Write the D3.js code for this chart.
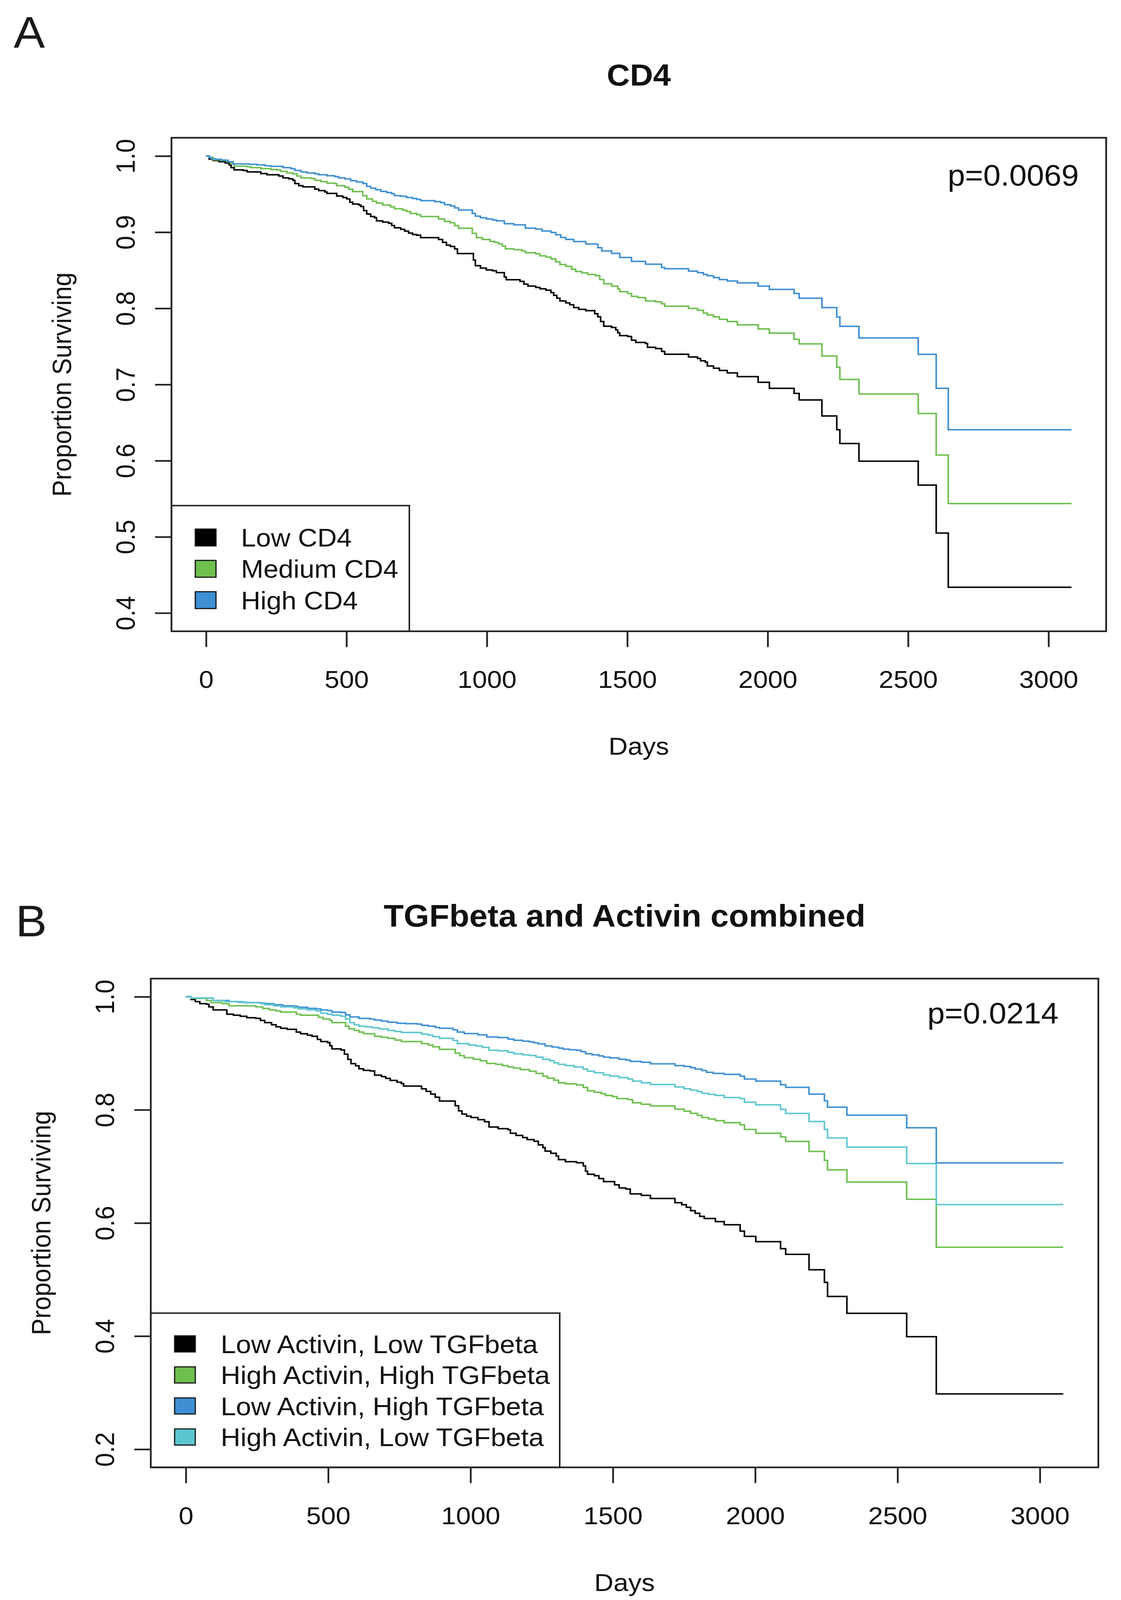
<!DOCTYPE html>
<html>
<head>
<meta charset="utf-8">
<script src="https://cdnjs.cloudflare.com/ajax/libs/d3/7.8.5/d3.min.js"></script>
<style>
  html, body { margin: 0; padding: 0; height: 100%; overflow: hidden; background: #fff; }
  svg { display: block; }
  text { font-family: "Liberation Sans", Arial, sans-serif; fill: #111; }
</style>
</head>
<body>
<script>
/******************************************************************************/
/* DATA                                                                       */
/******************************************************************************/
// follow-up ends here for every curve (days)
var lastDay = 3082;
var dayTicks = [0, 500, 1000, 1500, 2000, 2500, 3000];

// panel A : [day, proportion surviving] at each step
var cd4Low = [[0,1],[11,0.9958],[25,0.9941],[46,0.9926],[68,0.9909],[82,0.9884],[89,0.9848],[100,0.9818],[132,0.9811],[146,0.9791],[195,0.9769],[217,0.9754],[259,0.9737],[274,0.9713],[295,0.9700],[309,0.9681],[316,0.9639],[330,0.9610],[345,0.9595],[387,0.9566],[401,0.9546],[423,0.9529],[430,0.9509],[465,0.9475],[487,0.9455],[501,0.9436],[512,0.9394],[522,0.9369],[544,0.9357],[551,0.9338],[561,0.9284],[572,0.9239],[586,0.9205],[600,0.9190],[607,0.9149],[629,0.9132],[650,0.9117],[661,0.9088],[671,0.9058],[693,0.9038],[707,0.9014],[721,0.8989],[735,0.8970],[750,0.8960],[764,0.8928],[828,0.8904],[842,0.8867],[856,0.8830],[870,0.8813],[885,0.8781],[895,0.8720],[952,0.8634],[959,0.8560],[977,0.8528],[998,0.8504],[1020,0.8494],[1034,0.8470],[1062,0.8413],[1069,0.8376],[1118,0.8354],[1132,0.8318],[1146,0.8293],[1174,0.8274],[1189,0.8256],[1210,0.8239],[1228,0.8207],[1238,0.8171],[1249,0.8134],[1260,0.8097],[1281,0.8072],[1295,0.8048],[1309,0.8011],[1327,0.7987],[1352,0.7970],[1384,0.7930],[1395,0.7889],[1405,0.7827],[1416,0.7766],[1444,0.7749],[1459,0.7717],[1466,0.7680],[1473,0.7643],[1501,0.7631],[1515,0.7582],[1530,0.7553],[1565,0.7538],[1572,0.7489],[1601,0.7472],[1622,0.7435],[1633,0.7398],[1718,0.7361],[1750,0.7342],[1761,0.7312],[1778,0.7293],[1785,0.7244],[1807,0.7214],[1828,0.7185],[1856,0.7153],[1892,0.7104],[1966,0.7030],[2006,0.6950],[2094,0.6883],[2112,0.6797],[2193,0.6587],[2246,0.6406],[2257,0.6226],[2325,0.5993],[2536,0.5679],[2600,0.5050],[2643,0.4338]];
var cd4Medium = [[0,1],[11,0.9982],[25,0.9951],[53,0.9941],[75,0.9926],[89,0.9897],[100,0.9867],[146,0.9860],[160,0.9848],[195,0.9835],[231,0.9823],[252,0.9816],[266,0.9799],[288,0.9779],[309,0.9767],[323,0.9737],[338,0.9713],[373,0.9706],[387,0.9681],[409,0.9664],[430,0.9644],[458,0.9639],[465,0.9610],[494,0.9590],[508,0.9566],[522,0.9534],[558,0.9480],[572,0.9436],[593,0.9406],[607,0.9382],[629,0.9357],[657,0.9333],[671,0.9308],[700,0.9289],[714,0.9272],[728,0.9247],[750,0.9230],[764,0.9205],[828,0.9173],[849,0.9141],[870,0.9124],[885,0.9088],[899,0.9051],[948,0.8985],[963,0.8928],[984,0.8904],[1012,0.8879],[1027,0.8867],[1041,0.8847],[1055,0.8818],[1066,0.8781],[1096,0.8771],[1125,0.8754],[1137,0.8730],[1174,0.8715],[1189,0.8690],[1210,0.8673],[1228,0.8649],[1245,0.8612],[1260,0.8575],[1281,0.8551],[1302,0.8514],[1316,0.8484],[1338,0.8465],[1359,0.8445],[1387,0.8428],[1402,0.8379],[1416,0.8323],[1444,0.8293],[1466,0.8256],[1473,0.8220],[1501,0.8195],[1515,0.8158],[1537,0.8141],[1565,0.8097],[1601,0.8085],[1622,0.8060],[1633,0.8028],[1718,0.7999],[1750,0.7974],[1771,0.7938],[1785,0.7913],[1807,0.7889],[1828,0.7857],[1856,0.7827],[1892,0.7783],[1966,0.7729],[2006,0.7675],[2094,0.7594],[2112,0.7533],[2193,0.7374],[2246,0.7227],[2257,0.7067],[2325,0.6876],[2536,0.6619],[2600,0.6074],[2643,0.5437]];
var cd4High = [[0,1],[11,0.9982],[18,0.9965],[32,0.9958],[53,0.9946],[78,0.9926],[96,0.9897],[153,0.9892],[181,0.9884],[210,0.9872],[231,0.9865],[274,0.9848],[302,0.9835],[316,0.9811],[338,0.9791],[359,0.9779],[387,0.9767],[401,0.9754],[430,0.9742],[458,0.9730],[472,0.9713],[494,0.9700],[515,0.9676],[536,0.9659],[558,0.9639],[572,0.9602],[586,0.9578],[604,0.9558],[622,0.9536],[643,0.9521],[661,0.9504],[671,0.9480],[693,0.9472],[714,0.9455],[735,0.9443],[750,0.9431],[764,0.9414],[814,0.9401],[835,0.9389],[849,0.9362],[870,0.9345],[885,0.9320],[899,0.9291],[948,0.9247],[959,0.9210],[977,0.9190],[998,0.9173],[1020,0.9161],[1034,0.9149],[1062,0.9112],[1096,0.9097],[1137,0.9053],[1174,0.9041],[1196,0.9016],[1228,0.8997],[1245,0.8967],[1263,0.8931],[1281,0.8906],[1309,0.8877],[1352,0.8845],[1395,0.8796],[1409,0.8754],[1444,0.8722],[1473,0.8668],[1515,0.8617],[1565,0.8580],[1622,0.8538],[1633,0.8521],[1718,0.8489],[1750,0.8470],[1771,0.8445],[1785,0.8428],[1807,0.8404],[1828,0.8379],[1856,0.8359],[1892,0.8335],[1966,0.8293],[2006,0.8249],[2094,0.8195],[2112,0.8134],[2193,0.8010],[2246,0.7886],[2257,0.7764],[2325,0.7612],[2536,0.7396],[2600,0.6950],[2643,0.6406]];

// panel B
var lowActLowTgf = [[0,1],[18,0.9951],[33,0.9914],[49,0.9877],[73,0.9866],[81,0.9821],[96,0.9766],[144,0.9691],[167,0.9673],[191,0.9654],[214,0.9628],[246,0.9617],[262,0.9580],[277,0.9543],[301,0.9505],[317,0.9468],[333,0.9442],[356,0.9423],[388,0.9375],[403,0.9345],[427,0.9319],[443,0.9301],[462,0.9245],[474,0.9208],[498,0.9189],[506,0.9134],[513,0.9078],[545,0.9059],[557,0.8985],[569,0.8892],[580,0.8817],[596,0.8780],[608,0.8725],[624,0.8698],[647,0.8687],[663,0.8613],[687,0.8587],[702,0.8557],[718,0.8520],[742,0.8490],[757,0.8464],[765,0.8420],[828,0.8371],[844,0.8327],[860,0.8278],[876,0.8223],[891,0.8156],[946,0.8074],[958,0.7981],[970,0.7925],[986,0.7888],[1002,0.7865],[1026,0.7827],[1049,0.7790],[1065,0.7697],[1097,0.7668],[1132,0.7649],[1140,0.7586],[1160,0.7549],[1183,0.7511],[1199,0.7474],[1223,0.7444],[1238,0.7381],[1254,0.7333],[1262,0.7270],[1282,0.7232],[1301,0.7184],[1309,0.7121],[1333,0.7084],[1372,0.7065],[1396,0.7009],[1404,0.6917],[1411,0.6861],[1435,0.6835],[1451,0.6786],[1467,0.6731],[1506,0.6675],[1522,0.6619],[1545,0.6601],[1561,0.6515],[1600,0.6489],[1632,0.6433],[1718,0.6359],[1742,0.6322],[1758,0.6277],[1773,0.6217],[1789,0.6173],[1805,0.6117],[1821,0.6080],[1860,0.6024],[1891,0.5968],[1947,0.5857],[1962,0.5764],[2002,0.5671],[2089,0.5545],[2107,0.5445],[2189,0.5173],[2243,0.4950],[2254,0.4701],[2322,0.4403],[2532,0.3991],[2636,0.2979]];
var highActHighTgf = [[0,1],[18,0.9970],[73,0.9933],[89,0.9896],[128,0.9877],[152,0.9840],[246,0.9821],[270,0.9792],[293,0.9766],[317,0.9747],[333,0.9728],[388,0.9691],[403,0.9673],[466,0.9635],[482,0.9606],[506,0.9580],[513,0.9543],[561,0.9479],[573,0.9431],[592,0.9405],[608,0.9375],[624,0.9345],[663,0.9301],[687,0.9282],[710,0.9264],[734,0.9234],[757,0.9208],[828,0.9171],[852,0.9145],[868,0.9115],[891,0.9070],[946,0.9003],[962,0.8959],[978,0.8922],[1010,0.8895],[1034,0.8868],[1057,0.8820],[1089,0.8805],[1112,0.8783],[1132,0.8757],[1152,0.8738],[1175,0.8712],[1207,0.8683],[1230,0.8645],[1254,0.8597],[1270,0.8560],[1293,0.8523],[1309,0.8478],[1333,0.8460],[1372,0.8441],[1396,0.8396],[1411,0.8337],[1435,0.8311],[1459,0.8285],[1474,0.8255],[1498,0.8236],[1514,0.8199],[1553,0.8181],[1569,0.8125],[1600,0.8099],[1632,0.8069],[1718,0.8013],[1750,0.7976],[1773,0.7939],[1797,0.7902],[1813,0.7865],[1836,0.7839],[1860,0.7809],[1891,0.7772],[1947,0.7735],[1962,0.7653],[2002,0.7586],[2089,0.7523],[2107,0.7441],[2189,0.7266],[2243,0.7106],[2254,0.6939],[2322,0.6723],[2532,0.6419],[2636,0.5571]];
var lowActHighTgf = [[0,1],[18,0.9978],[96,0.9933],[152,0.9914],[183,0.9903],[214,0.9896],[262,0.9888],[277,0.9877],[309,0.9859],[340,0.9840],[380,0.9829],[395,0.9814],[427,0.9795],[458,0.9784],[474,0.9766],[498,0.9754],[513,0.9728],[545,0.9721],[561,0.9680],[576,0.9643],[608,0.9617],[647,0.9606],[663,0.9587],[687,0.9569],[710,0.9550],[742,0.9531],[773,0.9524],[813,0.9516],[828,0.9494],[852,0.9479],[876,0.9457],[891,0.9442],[939,0.9412],[954,0.9375],[978,0.9349],[1026,0.9326],[1057,0.9289],[1097,0.9278],[1132,0.9251],[1152,0.9229],[1183,0.9214],[1207,0.9203],[1223,0.9185],[1238,0.9166],[1262,0.9129],[1286,0.9110],[1309,0.9092],[1325,0.9073],[1348,0.9062],[1372,0.9054],[1388,0.9028],[1404,0.8991],[1427,0.8973],[1451,0.8954],[1467,0.8932],[1490,0.8917],[1522,0.8895],[1545,0.8880],[1561,0.8857],[1600,0.8842],[1632,0.8813],[1718,0.8783],[1750,0.8768],[1773,0.8746],[1789,0.8720],[1813,0.8694],[1829,0.8664],[1852,0.8645],[1891,0.8627],[1947,0.8597],[1962,0.8545],[2002,0.8508],[2089,0.8445],[2107,0.8397],[2189,0.8278],[2243,0.8159],[2254,0.8047],[2322,0.7906],[2532,0.7683],[2636,0.7062]];
var highActLowTgf = [[0,1],[18,0.9978],[96,0.9933],[136,0.9914],[199,0.9896],[262,0.9877],[277,0.9859],[309,0.9840],[333,0.9821],[380,0.9803],[395,0.9784],[427,0.9766],[458,0.9747],[474,0.9710],[498,0.9691],[513,0.9673],[545,0.9654],[561,0.9606],[576,0.9543],[592,0.9505],[608,0.9479],[632,0.9468],[655,0.9450],[679,0.9431],[710,0.9405],[734,0.9386],[757,0.9368],[828,0.9338],[852,0.9319],[868,0.9293],[891,0.9264],[939,0.9226],[954,0.9171],[994,0.9147],[1018,0.9129],[1042,0.9103],[1065,0.9054],[1097,0.9043],[1132,0.9017],[1152,0.8991],[1183,0.8973],[1207,0.8961],[1230,0.8932],[1254,0.8894],[1278,0.8869],[1293,0.8831],[1309,0.8805],[1333,0.8783],[1364,0.8757],[1396,0.8720],[1411,0.8683],[1435,0.8656],[1467,0.8619],[1490,0.8597],[1522,0.8571],[1553,0.8545],[1569,0.8508],[1600,0.8478],[1632,0.8448],[1718,0.8404],[1750,0.8374],[1773,0.8348],[1797,0.8322],[1813,0.8292],[1836,0.8274],[1860,0.8255],[1891,0.8218],[1947,0.8199],[1962,0.8136],[2002,0.8088],[2089,0.8010],[2107,0.7936],[2189,0.7794],[2243,0.7653],[2254,0.7504],[2322,0.7341],[2532,0.7051],[2636,0.6326]];

var cd4Names = ["Low CD4", "Medium CD4", "High CD4"];
var comboNames = ["Low Activin, Low TGFbeta", "High Activin, High TGFbeta",
                  "Low Activin, High TGFbeta", "High Activin, Low TGFbeta"];
var cd4Ticks = [0.4, 0.5, 0.6, 0.7, 0.8, 0.9, 1.0];
var comboTicks = [0.2, 0.4, 0.6, 0.8, 1.0];

var BLACK = "#000000", GREEN = "#6dbf4e", BLUE = "#3e8fd3", CYAN = "#5cc6d0";

/******************************************************************************/
/* DRAWING                                                                    */
/******************************************************************************/
var W = 2870, H = 4367;

// figure is laid out on a 2870 x 4367 grid and fitted to the window
var initSvg = function() {
  return d3.select('body')
    .append('svg')
    .attr('viewBox', '0 0 ' + W + ' ' + H)
    .attr('preserveAspectRatio', 'none')
    .style('width', '100vw')
    .style('height', '100vh');
};

var drawPanel = function(svg, p) {
  var x = d3.scaleLinear()
    .domain([-0.04 * lastDay, 1.04 * lastDay])
    .range([p.left, p.right]);
  var y = d3.scaleLinear()
    .domain([p.yMin - 0.04 * (1 - p.yMin), 1 + 0.04 * (1 - p.yMin)])
    .range([p.bottom, p.top]);

  var g = svg.append('g');

  // panel letter and title
  g.append('text').attr('x', p.letterX).attr('y', p.letterY)
    .style('font-size', '120px').style('fill', '#1a1a1a').text(p.letter);
  g.append('text').attr('x', (p.left + p.right) / 2).attr('y', p.top - 142)
    .attr('text-anchor', 'middle')
    .style('font-size', p.titleSize + 'px').style('font-weight', 'bold')
    .text(p.title);

  // x axis
  var xAxis = d3.axisBottom(x).tickValues(dayTicks).tickSize(43)
    .tickPadding(0).tickFormat(d3.format('d'));
  var gx = g.append('g').attr('transform', 'translate(0,' + p.bottom + ')').call(xAxis);
  gx.select('.domain').remove();
  gx.selectAll('line').attr('stroke', '#222').attr('stroke-width', 4.5);
  gx.selectAll('text').attr('y', 155).attr('dy', 0)
    .style('font-size', '68px').style('font-family', '"Liberation Sans", Arial, sans-serif');

  // y axis, labels turned like R does
  var yAxis = d3.axisLeft(y).tickValues(p.yTicks).tickSize(42)
    .tickPadding(0).tickFormat(d3.format('.1f'));
  var gy = g.append('g').attr('transform', 'translate(' + p.left + ',0)').call(yAxis);
  gy.select('.domain').remove();
  gy.selectAll('line').attr('stroke', '#222').attr('stroke-width', 4.5);
  gy.selectAll('text')
    .attr('x', 0).attr('dy', 0).attr('y', 0)
    .attr('text-anchor', 'middle')
    .attr('transform', 'translate(-94,0) rotate(-90)')
    .style('font-size', '68px').style('font-family', '"Liberation Sans", Arial, sans-serif');

  g.append('text').attr('x', (p.left + p.right) / 2).attr('y', p.bottom + 337)
    .attr('text-anchor', 'middle').style('font-size', '68px').text('Days');
  g.append('text')
    .attr('transform', 'translate(' + (p.left - 257) + ',' + ((p.top + p.bottom) / 2) + ') rotate(-90)')
    .attr('text-anchor', 'middle').style('font-size', '68px').text('Proportion Surviving');

  // curves
  var line = d3.line()
    .x(function(d) { return x(d[0]); })
    .y(function(d) { return y(d[1]); })
    .curve(d3.curveStepAfter);
  p.series.forEach(function(s) {
    var pts = s.data.concat([[lastDay, s.data[s.data.length - 1][1]]]);
    g.append('path').datum(pts)
      .attr('d', line)
      .attr('fill', 'none')
      .attr('stroke', s.color)
      .attr('stroke-width', 4);
  });

  // p value
  g.append('text').attr('x', p.pX).attr('y', p.pY)
    .attr('text-anchor', 'end').style('font-size', '80px').text(p.pText);

  // legend, bottom left
  var lg = g.append('g');
  lg.append('rect')
    .attr('x', p.left).attr('y', p.legTop)
    .attr('width', p.legRight - p.left).attr('height', p.bottom - p.legTop)
    .attr('fill', '#fff').attr('stroke', '#222').attr('stroke-width', 4);
  var rows = lg.selectAll('g.row').data(p.series).enter().append('g')
    .attr('transform', function(d, i) {
      return 'translate(0,' + (p.legRow0 + i * p.legStep) + ')';
    });
  rows.append('rect')
    .attr('x', p.left + 61).attr('y', -p.boxH / 2)
    .attr('width', 53).attr('height', p.boxH)
    .attr('fill', function(d) { return d.color; })
    .attr('stroke', '#111').attr('stroke-width', 3);
  rows.append('text')
    .attr('x', p.left + p.textOff).attr('dy', '0.36em')
    .style('font-size', p.legSize + 'px')
    .text(function(d) { return d.name; });

  // frame on top
  g.append('rect')
    .attr('x', p.left).attr('y', p.top)
    .attr('width', p.right - p.left).attr('height', p.bottom - p.top)
    .attr('fill', 'none').attr('stroke', '#222').attr('stroke-width', 4.5);
};

/******************************************************************************/
/* RUNTIME                                                                    */
/******************************************************************************/
var svg = initSvg();

drawPanel(svg, {
  letter: 'A', letterX: 35, letterY: 130,
  title: 'CD4', titleSize: 82,
  left: 439, right: 2832, top: 376, bottom: 1723,
  yMin: 0.4, yTicks: cd4Ticks,
  pText: 'p=0.0069', pX: 2762, pY: 506,
  legTop: 1380, legRight: 1048, legRow0: 1467, legStep: 85.5, boxH: 46,
  textOff: 178, legSize: 69,
  series: [
    { name: cd4Names[0], color: BLACK, data: cd4Low },
    { name: cd4Names[1], color: GREEN, data: cd4Medium },
    { name: cd4Names[2], color: BLUE,  data: cd4High }
  ]
});

drawPanel(svg, {
  letter: 'B', letterX: 40, letterY: 2556,
  title: 'TGFbeta and Activin combined', titleSize: 84,
  left: 386, right: 2812, top: 2671, bottom: 4005,
  yMin: 0.2, yTicks: comboTicks,
  pText: 'p=0.0214', pX: 2710, pY: 2793,
  legTop: 3584, legRight: 1433, legRow0: 3668, legStep: 84.7, boxH: 44,
  textOff: 179, legSize: 70,
  series: [
    { name: comboNames[0], color: BLACK, data: lowActLowTgf },
    { name: comboNames[1], color: GREEN, data: highActHighTgf },
    { name: comboNames[2], color: BLUE,  data: lowActHighTgf },
    { name: comboNames[3], color: CYAN,  data: highActLowTgf }
  ]
});
</script>
</body>
</html>
